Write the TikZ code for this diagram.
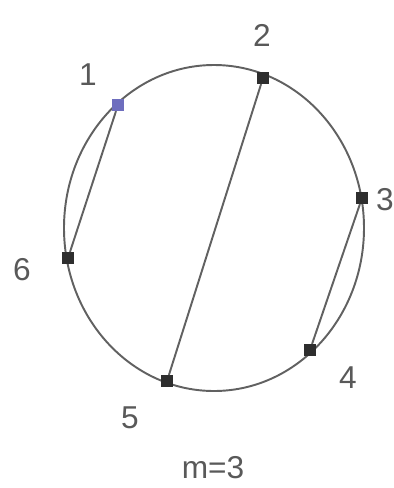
\documentclass[tikz,border=0pt]{standalone}
\usepackage{fontspec}
\setmainfont{Liberation Sans}
\begin{document}
\begin{tikzpicture}[x=0.02cm,y=-0.02cm,
  vtx/.style={draw=none,fill=black!82,minimum size=0.23cm,inner sep=0pt,rectangle},
  vtxb/.style={vtx,fill={rgb,255:red,110;green,110;blue,190}},
  edge/.style={draw=black!62,line width=1.1pt},
  lbl/.style={font=\fontsize{18}{20}\selectfont,text=black!65}]
\useasboundingbox (0,0) rectangle (394,488);
\coordinate (c) at (214,228);
\draw[edge] (c) ellipse [x radius=150, y radius=-163];
\node[vtxb] (n1) at (118,105) {};
\node[vtx] (n2) at (263,78) {};
\node[vtx] (n3) at (362,198) {};
\node[vtx] (n4) at (310,350) {};
\node[vtx] (n5) at (167,381) {};
\node[vtx] (n6) at (68,258) {};
\draw[edge] (n1) -- (n6);
\draw[edge] (n3) -- (n4);
\draw[edge] (n2) -- (n5);
\node[vtxb] at (n1) {};
\node[lbl] (l1) at (88,75) {1};
\node[lbl] (l2) at (262,35) {2};
\node[lbl] (l3) at (385,200) {3};
\node[lbl] (l4) at (348,378) {4};
\node[lbl] (l5) at (130,418) {5};
\node[lbl] (l6) at (22,270) {6};
\node[lbl] (lm) at (213,468) {m=3};
\end{tikzpicture}
\end{document}
